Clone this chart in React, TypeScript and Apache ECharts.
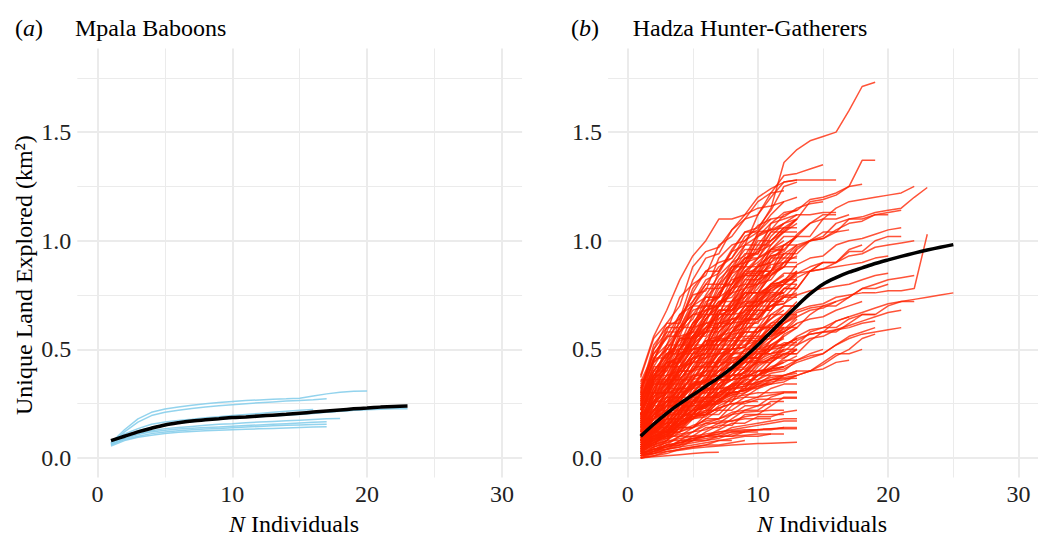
import React, { useEffect, useRef } from 'react';
import * as echarts from 'echarts';

const FONT = 'serif';
const FS = 24;

const xMajor = [0, 10, 20, 30];
const xMinor = [5, 15, 25];
const yMajor = [0, 0.5, 1, 1.5];
const yMinor = [0.25, 0.75, 1.25, 1.75];

const panelTitles = ['Mpala Baboons', 'Hadza Hunter-Gatherers'];
const panelTags = ['a', 'b'];

// Mpala baboons: one array per individual, values at N = 1, 2, 3, ...
const baboonRuns: number[][] = [
  [0.07, 0.13, 0.18, 0.21, 0.225, 0.235, 0.243, 0.25, 0.255, 0.26, 0.264, 0.267, 0.27, 0.272, 0.275, 0.285, 0.295, 0.302, 0.307, 0.308],
  [0.065, 0.12, 0.165, 0.195, 0.21, 0.22, 0.228, 0.235, 0.24, 0.245, 0.25, 0.254, 0.258, 0.262, 0.265, 0.268, 0.272],
  [0.07, 0.1, 0.12, 0.14, 0.15, 0.16, 0.168, 0.175, 0.18, 0.185, 0.19, 0.193, 0.196, 0.2, 0.204, 0.208, 0.212, 0.216, 0.22, 0.222, 0.224, 0.226, 0.227],
  [0.08, 0.11, 0.135, 0.155, 0.165, 0.172, 0.178, 0.185, 0.19, 0.195, 0.2, 0.205, 0.21, 0.215, 0.22, 0.223],
  [0.06, 0.09, 0.11, 0.125, 0.135, 0.14, 0.145, 0.15, 0.155, 0.158, 0.162, 0.165, 0.168, 0.171, 0.174, 0.177, 0.18, 0.182],
  [0.065, 0.09, 0.108, 0.12, 0.128, 0.133, 0.137, 0.14, 0.143, 0.146, 0.149, 0.152, 0.155, 0.158, 0.161, 0.164, 0.167],
  [0.06, 0.085, 0.1, 0.112, 0.12, 0.125, 0.13, 0.133, 0.136, 0.139, 0.142, 0.145, 0.148, 0.15, 0.152, 0.154, 0.155],
  [0.055, 0.08, 0.095, 0.105, 0.113, 0.118, 0.122, 0.125, 0.128, 0.13, 0.132, 0.134, 0.136, 0.138, 0.14, 0.142, 0.144],
  [0.07, 0.1, 0.125, 0.14, 0.152, 0.16, 0.167, 0.173, 0.178, 0.183, 0.187, 0.19, 0.193, 0.197, 0.2, 0.205, 0.21, 0.215, 0.22, 0.225],
];
const baboonMean = [0.08, 0.1, 0.12, 0.137, 0.152, 0.162, 0.17, 0.176, 0.181, 0.186, 0.189, 0.193, 0.197, 0.201, 0.206, 0.211, 0.216, 0.221, 0.226, 0.23, 0.234, 0.237, 0.239];

// Hadza hunter-gatherers: one array per individual, values at N = 1, 2, 3, ...
const hadzaUpper: number[][] = [
  [0.38, 0.56, 0.68, 0.82, 0.93, 1.0, 1.1, 1.1, 1.12, 1.15, 1.16, 1.18],
  [0.3, 0.5, 0.62, 0.7, 0.88, 0.95, 0.97, 1.05, 1.12, 1.2, 1.24, 1.27, 1.28],
  [0.33, 0.45, 0.58, 0.74, 0.8, 0.84, 0.98, 1.02, 1.1, 1.18, 1.22, 1.23],
  [0.27, 0.42, 0.52, 0.66, 0.72, 0.82, 0.85, 0.95, 1.04, 1.06, 1.14, 1.25, 1.27],
  [0.35, 0.48, 0.55, 0.62, 0.78, 0.86, 0.9, 0.92, 1.0, 1.04, 1.1],
  [0.25, 0.36, 0.5, 0.58, 0.64, 0.75, 0.84, 0.9, 0.93, 1.03, 1.05, 1.06],
  [0.22, 0.35, 0.4, 0.56, 0.58, 0.72, 0.74, 0.88, 0.9, 1.04, 1.05, 1.12, 1.14],
  [0.2, 0.32, 0.45, 0.5, 0.62, 0.66, 0.78, 0.8, 0.92, 0.95, 0.98],
  [0.24, 0.38, 0.46, 0.55, 0.58, 0.66, 0.74, 0.78, 0.88, 0.96, 1.0, 1.04, 1.08],
  [0.18, 0.3, 0.42, 0.48, 0.52, 0.64, 0.7, 0.8, 0.86, 0.9, 0.96, 0.98],
  [0.29, 0.4, 0.47, 0.6, 0.7, 0.74, 0.8, 0.86, 0.98, 1.02, 1.05, 1.08, 1.12],
  [0.16, 0.28, 0.38, 0.5, 0.56, 0.6, 0.7, 0.76, 0.86, 0.92, 0.95, 0.96],
];
const hadzaMid: number[][] = [
  [0.15, 0.26, 0.36, 0.45, 0.53, 0.6, 0.62, 0.72, 0.78, 0.84, 0.88],
  [0.16, 0.26, 0.3, 0.42, 0.5, 0.52, 0.64, 0.7, 0.72, 0.82, 0.86, 0.9],
  [0.14, 0.24, 0.33, 0.41, 0.44, 0.55, 0.62, 0.64, 0.74, 0.8, 0.82, 0.9, 0.93],
  [0.12, 0.22, 0.3, 0.32, 0.46, 0.54, 0.56, 0.66, 0.71, 0.72, 0.78],
  [0.14, 0.2, 0.3, 0.37, 0.4, 0.5, 0.56, 0.58, 0.68, 0.73, 0.77, 0.8],
  [0.12, 0.18, 0.28, 0.35, 0.38, 0.48, 0.54, 0.56, 0.66, 0.71, 0.73, 0.8, 0.84],
  [0.1, 0.18, 0.26, 0.28, 0.4, 0.46, 0.48, 0.58, 0.63, 0.64, 0.72, 0.75],
  [0.11, 0.18, 0.22, 0.31, 0.37, 0.4, 0.49, 0.55, 0.56, 0.65, 0.7, 0.71, 0.78],
  [0.1, 0.15, 0.24, 0.3, 0.32, 0.42, 0.48, 0.5, 0.59, 0.63, 0.66],
  [0.09, 0.16, 0.19, 0.28, 0.34, 0.36, 0.45, 0.5, 0.51, 0.6, 0.64, 0.68],
  [0.08, 0.14, 0.2, 0.22, 0.32, 0.37, 0.38, 0.47, 0.52, 0.54, 0.62, 0.66, 0.7],
  [0.09, 0.12, 0.2, 0.25, 0.26, 0.35, 0.4, 0.42, 0.5, 0.54, 0.55, 0.62, 0.65],
  [0.07, 0.12, 0.14, 0.22, 0.27, 0.28, 0.37, 0.42, 0.44, 0.5, 0.54, 0.58],
  [0.08, 0.1, 0.18, 0.23, 0.24, 0.33, 0.37, 0.38, 0.45, 0.49, 0.5, 0.57, 0.6],
  [0.06, 0.11, 0.16, 0.17, 0.26, 0.31, 0.32, 0.4, 0.44, 0.45, 0.52],
  [0.06, 0.08, 0.15, 0.19, 0.2, 0.28, 0.32, 0.33, 0.4, 0.44, 0.45, 0.52, 0.55],
  [0.05, 0.09, 0.1, 0.18, 0.22, 0.23, 0.3, 0.34, 0.35, 0.42, 0.46, 0.5],
  [0.05, 0.07, 0.13, 0.17, 0.18, 0.25, 0.29, 0.3, 0.37, 0.4, 0.41, 0.46, 0.5],
  [0.06, 0.1, 0.12, 0.18, 0.22, 0.23, 0.27, 0.29, 0.32, 0.38, 0.41, 0.44, 0.47],
  [0.2, 0.34, 0.44, 0.46, 0.54, 0.62, 0.64, 0.7, 0.78, 0.8, 0.86, 0.94],
  [0.26, 0.4, 0.48, 0.5, 0.6, 0.68, 0.7, 0.76, 0.84, 0.88, 0.9],
  [0.22, 0.3, 0.42, 0.48, 0.5, 0.58, 0.66, 0.68, 0.74, 0.82, 0.85, 0.88, 0.96],
  [0.18, 0.24, 0.36, 0.42, 0.44, 0.52, 0.6, 0.62, 0.68, 0.76, 0.79, 0.82],
  [0.13, 0.28, 0.34, 0.38, 0.48, 0.52, 0.55, 0.64, 0.66, 0.74, 0.78, 0.8, 0.86],
  [0.32, 0.44, 0.5, 0.6, 0.66, 0.68, 0.76, 0.82, 0.84, 0.92, 0.96, 1.0],
  [0.28, 0.36, 0.46, 0.54, 0.56, 0.64, 0.72, 0.74, 0.82, 0.88, 0.9, 0.98, 1.02],
  [0.17, 0.3, 0.38, 0.4, 0.52, 0.58, 0.6, 0.68, 0.72, 0.78, 0.86],
  [0.19, 0.26, 0.32, 0.42, 0.46, 0.48, 0.56, 0.6, 0.62, 0.7, 0.74, 0.76],
];
const hadzaSteps: number[][] = [
  [0.05, 0.05, 0.15, 0.15, 0.22, 0.3, 0.3, 0.38, 0.38, 0.45, 0.52, 0.52, 0.55],
  [0.1, 0.22, 0.22, 0.3, 0.42, 0.42, 0.5, 0.5, 0.62, 0.68, 0.68, 0.75, 0.75],
  [0.02, 0.12, 0.12, 0.2, 0.2, 0.28, 0.36, 0.36, 0.4, 0.48, 0.48, 0.5],
  [0.18, 0.18, 0.32, 0.4, 0.4, 0.52, 0.52, 0.6, 0.7, 0.7, 0.8, 0.85, 0.85],
  [0.08, 0.2, 0.28, 0.28, 0.35, 0.35, 0.46, 0.54, 0.54, 0.6, 0.6],
  [0.25, 0.25, 0.42, 0.42, 0.56, 0.62, 0.62, 0.72, 0.8, 0.8, 0.92, 0.92, 0.98],
  [0.12, 0.12, 0.18, 0.28, 0.28, 0.33, 0.44, 0.44, 0.5, 0.5, 0.58, 0.62],
  [0.04, 0.1, 0.1, 0.16, 0.26, 0.26, 0.3, 0.3, 0.36, 0.44, 0.44, 0.48, 0.48],
  [0.2, 0.35, 0.35, 0.48, 0.48, 0.6, 0.66, 0.66, 0.76, 0.76, 0.86, 0.92, 0.92],
  [0.06, 0.06, 0.12, 0.12, 0.2, 0.26, 0.26, 0.32, 0.32, 0.4, 0.4, 0.42],
  [0.15, 0.28, 0.36, 0.36, 0.44, 0.44, 0.55, 0.55, 0.64, 0.72, 0.72, 0.78, 0.82],
  [0.3, 0.3, 0.44, 0.55, 0.55, 0.66, 0.66, 0.78, 0.85, 0.85, 0.96, 0.96, 1.02],
  [0.09, 0.16, 0.16, 0.24, 0.24, 0.32, 0.38, 0.38, 0.46, 0.46, 0.52, 0.56],
  [0.03, 0.03, 0.08, 0.14, 0.14, 0.2, 0.2, 0.26, 0.34, 0.34, 0.38, 0.38, 0.4],
  [0.22, 0.34, 0.34, 0.46, 0.5, 0.5, 0.62, 0.62, 0.7, 0.76, 0.76],
  [0.12, 0.24, 0.24, 0.34, 0.34, 0.4, 0.48, 0.48, 0.56, 0.56, 0.66, 0.7, 0.7],
  [0.26, 0.4, 0.4, 0.52, 0.52, 0.64, 0.7, 0.7, 0.82, 0.82, 0.9, 0.94],
  [0.07, 0.14, 0.14, 0.22, 0.3, 0.3, 0.36, 0.36, 0.42, 0.5, 0.5, 0.56, 0.6],
  [0.16, 0.16, 0.26, 0.32, 0.32, 0.42, 0.42, 0.5, 0.58, 0.58, 0.66, 0.66, 0.72],
  [0.04, 0.09, 0.09, 0.14, 0.14, 0.18, 0.22, 0.22, 0.26, 0.26],
  [0.34, 0.46, 0.46, 0.6, 0.66, 0.66, 0.8, 0.8, 0.9, 1.0, 1.0, 1.06, 1.1],
  [0.11, 0.11, 0.2, 0.2, 0.3, 0.36, 0.36, 0.46, 0.46, 0.54, 0.6, 0.6],
  [0.01, 0.04, 0.04, 0.08, 0.08, 0.12, 0.15, 0.15, 0.2, 0.2, 0.24, 0.28, 0.28],
  [0.19, 0.3, 0.3, 0.38, 0.46, 0.46, 0.54, 0.54, 0.62, 0.7, 0.7, 0.74, 0.76],
  [0.14, 0.22, 0.3, 0.3, 0.38, 0.38, 0.46, 0.52, 0.52, 0.6, 0.6, 0.66],
  [0.08, 0.08, 0.14, 0.22, 0.22, 0.28, 0.28, 0.34, 0.4, 0.4, 0.46, 0.46, 0.5],
  [0.24, 0.36, 0.36, 0.5, 0.5, 0.58, 0.68, 0.68, 0.76, 0.76, 0.84, 0.88, 0.88],
  [0.05, 0.12, 0.18, 0.18, 0.24, 0.24, 0.3, 0.34, 0.34, 0.38, 0.38],
  [0.13, 0.13, 0.22, 0.22, 0.3, 0.38, 0.38, 0.44, 0.44, 0.52, 0.58, 0.58, 0.64],
  [0.28, 0.38, 0.38, 0.5, 0.58, 0.58, 0.68, 0.68, 0.76, 0.84, 0.84, 0.88],
  [0.06, 0.12, 0.12, 0.18, 0.18, 0.24, 0.32, 0.32, 0.38, 0.38, 0.44, 0.5, 0.5],
  [0.17, 0.26, 0.26, 0.36, 0.36, 0.46, 0.52, 0.52, 0.6, 0.6, 0.68, 0.74, 0.8],
  [0.02, 0.02, 0.06, 0.1, 0.1, 0.14, 0.14, 0.18, 0.22, 0.22, 0.26, 0.26],
  [0.36, 0.36, 0.52, 0.6, 0.6, 0.74, 0.74, 0.86, 0.94, 0.94, 1.04, 1.04, 1.1],
  [0.1, 0.18, 0.26, 0.26, 0.34, 0.34, 0.42, 0.48, 0.48, 0.56, 0.56, 0.62, 0.66],
  [0.21, 0.21, 0.32, 0.4, 0.4, 0.48, 0.48, 0.58, 0.64, 0.64, 0.72, 0.72],
  [0.0, 0.03, 0.06, 0.06, 0.1, 0.1, 0.13, 0.16, 0.16, 0.19, 0.19, 0.21, 0.22],
  [0.27, 0.42, 0.42, 0.55, 0.55, 0.64, 0.72, 0.72, 0.84, 0.84, 0.94, 0.98, 0.98],
  [0.15, 0.15, 0.24, 0.32, 0.32, 0.4, 0.4, 0.48, 0.54, 0.54, 0.6],
  [0.32, 0.48, 0.56, 0.56, 0.7, 0.7, 0.82, 0.88, 0.88, 0.98, 0.98, 1.05, 1.1],
];
const hadzaJumps: number[][] = [
  [0.09, 0.2, 0.26, 0.26, 0.33, 0.42, 0.42, 0.47, 0.55, 0.55, 0.6, 0.66, 0.66],
  [0.14, 0.3, 0.3, 0.4, 0.48, 0.48, 0.58, 0.64, 0.64, 0.72, 0.76, 0.76],
  [0.04, 0.14, 0.18, 0.18, 0.26, 0.32, 0.32, 0.38, 0.44, 0.44, 0.5, 0.53, 0.53],
  [0.26, 0.46, 0.52, 0.52, 0.66, 0.74, 0.74, 0.86, 0.92, 0.92, 1.0, 1.06, 1.06],
  [0.07, 0.16, 0.2, 0.2, 0.28, 0.34, 0.34, 0.4, 0.46, 0.46, 0.5],
  [0.19, 0.38, 0.44, 0.44, 0.54, 0.6, 0.6, 0.7, 0.76, 0.76, 0.84, 0.9, 0.9],
  [0.03, 0.09, 0.12, 0.12, 0.18, 0.22, 0.22, 0.28, 0.32, 0.32, 0.36, 0.38],
  [0.11, 0.24, 0.32, 0.32, 0.42, 0.5, 0.5, 0.58, 0.66, 0.66, 0.74, 0.8, 0.8],
  [0.23, 0.4, 0.48, 0.48, 0.6, 0.7, 0.7, 0.8, 0.88, 0.88, 0.98, 1.04, 1.04],
  [0.06, 0.13, 0.16, 0.16, 0.22, 0.28, 0.28, 0.33, 0.38, 0.38, 0.42, 0.44],
  [0.16, 0.32, 0.38, 0.38, 0.48, 0.54, 0.54, 0.62, 0.7, 0.7, 0.78, 0.82, 0.82],
  [0.02, 0.07, 0.1, 0.1, 0.14, 0.18, 0.18, 0.24, 0.28, 0.28, 0.32, 0.34, 0.34],
  [0.31, 0.52, 0.6, 0.6, 0.72, 0.8, 0.8, 0.9, 0.98, 0.98, 1.06],
  [0.12, 0.22, 0.28, 0.28, 0.36, 0.44, 0.44, 0.52, 0.58, 0.58, 0.64, 0.7, 0.7],
  [0.08, 0.18, 0.24, 0.24, 0.3, 0.36, 0.36, 0.42, 0.5, 0.5, 0.56, 0.58],
  [0.37, 0.55, 0.62, 0.62, 0.76, 0.86, 0.86, 0.96, 1.04, 1.04, 1.12, 1.18, 1.2],
  [0.05, 0.1, 0.13, 0.13, 0.2, 0.25, 0.25, 0.31, 0.36, 0.36, 0.41, 0.45, 0.45],
  [0.2, 0.36, 0.42, 0.42, 0.52, 0.58, 0.58, 0.66, 0.72, 0.72, 0.8, 0.84],
  [0.13, 0.26, 0.34, 0.34, 0.46, 0.54, 0.54, 0.62, 0.68, 0.68, 0.76, 0.82, 0.86],
  [0.01, 0.05, 0.08, 0.08, 0.12, 0.16, 0.16, 0.2, 0.24, 0.24, 0.28, 0.3, 0.3],
  [0.24, 0.44, 0.5, 0.5, 0.62, 0.7, 0.7, 0.78, 0.84, 0.84, 0.92, 0.96],
  [0.17, 0.3, 0.36, 0.36, 0.44, 0.52, 0.52, 0.58, 0.64, 0.64, 0.7, 0.74, 0.74],
  [0.1, 0.2, 0.24, 0.24, 0.3, 0.36, 0.36, 0.42, 0.48, 0.48, 0.54, 0.58, 0.62],
  [0.29, 0.5, 0.58, 0.58, 0.7, 0.78, 0.78, 0.88, 0.96, 0.96, 1.04, 1.08],
];
const hadzaLow: number[][] = [
  [0.0, 0.005, 0.01, 0.015, 0.02, 0.025, 0.026],
  [0.01, 0.02, 0.03, 0.035, 0.045, 0.05, 0.055, 0.06, 0.063, 0.066, 0.068, 0.07, 0.072],
  [0.02, 0.04, 0.05, 0.08, 0.09, 0.1, 0.1, 0.12, 0.125, 0.13, 0.135, 0.14, 0.14],
  [0.02, 0.04, 0.06, 0.07, 0.08, 0.08, 0.1, 0.1, 0.105, 0.11, 0.11, 0.11],
  [0.03, 0.05, 0.07, 0.09, 0.1, 0.11, 0.12, 0.125, 0.13, 0.13, 0.135, 0.135, 0.135],
  [0.03, 0.06, 0.09, 0.11, 0.12, 0.15, 0.17, 0.17, 0.19, 0.2, 0.2, 0.2],
  [0.04, 0.07, 0.1, 0.12, 0.15, 0.17, 0.18, 0.2, 0.21, 0.215, 0.22, 0.22],
  [0.05, 0.09, 0.12, 0.16, 0.19, 0.2, 0.23, 0.25, 0.25, 0.27, 0.27, 0.275, 0.275],
  [0.06, 0.1, 0.14, 0.16, 0.21, 0.24, 0.25, 0.28, 0.29, 0.3, 0.3, 0.305, 0.305],
  [0.07, 0.12, 0.16, 0.21, 0.25, 0.27, 0.3, 0.32, 0.33, 0.35, 0.36, 0.365, 0.367],
  [0.01, 0.03, 0.05, 0.06, 0.08, 0.09, 0.1, 0.1, 0.12, 0.12],
  [0.02, 0.05, 0.07, 0.1, 0.12, 0.13, 0.16, 0.17, 0.18, 0.18, 0.18],
  [0.04, 0.08, 0.11, 0.15, 0.18, 0.2, 0.23, 0.25, 0.26, 0.28, 0.29, 0.3],
  [0.05, 0.1, 0.13, 0.18, 0.22, 0.24, 0.28, 0.3, 0.31, 0.33, 0.34],
  [0.02, 0.04, 0.06, 0.07, 0.09, 0.1, 0.11, 0.12, 0.12],
  [0.03, 0.07, 0.1, 0.15, 0.19, 0.21, 0.27, 0.3, 0.31, 0.35, 0.37, 0.38, 0.39],
  [0.08, 0.13, 0.17, 0.22, 0.26, 0.28, 0.33, 0.36, 0.37, 0.4, 0.41, 0.42],
  [0.04, 0.08, 0.11, 0.16, 0.2, 0.22, 0.27, 0.3, 0.31, 0.34, 0.36, 0.37, 0.38],
  [0.01, 0.02, 0.04, 0.05, 0.06, 0.07, 0.08, 0.08],
  [0.0, 0.02, 0.04, 0.05, 0.08, 0.1, 0.11, 0.14, 0.15, 0.16, 0.17, 0.18, 0.18],
  [0.0, 0.01, 0.02, 0.04, 0.05, 0.06, 0.08, 0.09, 0.1, 0.1, 0.11],
  [0.01, 0.03, 0.04, 0.06, 0.07, 0.08, 0.09, 0.11, 0.12, 0.13, 0.13, 0.14],
  [0.03, 0.06, 0.08, 0.12, 0.14, 0.16, 0.18, 0.21, 0.22, 0.24, 0.25],
  [0.1, 0.16, 0.2, 0.25, 0.29, 0.31, 0.36, 0.4, 0.41, 0.44, 0.47, 0.48, 0.5],
  [0.12, 0.18, 0.22, 0.28, 0.33, 0.35, 0.4, 0.44, 0.45, 0.5, 0.52, 0.55],
  [0.02, 0.04, 0.05, 0.07, 0.09, 0.1, 0.12, 0.13, 0.14, 0.15, 0.16, 0.17, 0.17],
  [0.0, 0.01, 0.03, 0.04, 0.05, 0.06, 0.06, 0.07, 0.08],
  [0.15, 0.22, 0.26, 0.32, 0.36, 0.38, 0.44, 0.48, 0.49, 0.54, 0.58, 0.6],
];
const hadzaLong: number[][] = [
  [0.3, 0.45, 0.56, 0.66, 0.7, 0.8, 0.88, 0.92, 1.02, 1.05, 1.15, 1.36, 1.42, 1.46, 1.48, 1.5, 1.6, 1.71, 1.73],
  [0.25, 0.38, 0.48, 0.52, 0.62, 0.7, 0.74, 0.85, 0.92, 0.94, 1.08, 1.13, 1.14, 1.19, 1.2, 1.22, 1.25, 1.37, 1.37],
  [0.28, 0.45, 0.6, 0.64, 0.82, 0.92, 0.94, 1.05, 1.1, 1.12, 1.22, 1.3, 1.31, 1.33, 1.35],
  [0.22, 0.36, 0.42, 0.58, 0.68, 0.7, 0.86, 0.95, 0.98, 1.12, 1.2, 1.27, 1.28, 1.28, 1.28, 1.28],
  [0.18, 0.3, 0.34, 0.5, 0.6, 0.62, 0.76, 0.85, 0.88, 1.02, 1.08, 1.1, 1.12, 1.12, 1.13, 1.13],
  [0.2, 0.32, 0.42, 0.44, 0.6, 0.68, 0.7, 0.83, 0.9, 0.92, 1.02, 1.08, 1.1, 1.18, 1.19, 1.21, 1.25, 1.26],
  [0.15, 0.26, 0.3, 0.46, 0.55, 0.58, 0.7, 0.76, 0.78, 0.88, 0.93, 0.95, 1.03, 1.08, 1.1, 1.15, 1.18, 1.19, 1.2, 1.21, 1.22, 1.25],
  [0.12, 0.22, 0.26, 0.4, 0.48, 0.5, 0.62, 0.68, 0.7, 0.8, 0.86, 0.88, 0.96, 1.0, 1.02, 1.08, 1.1, 1.11, 1.13, 1.14, 1.15, 1.2, 1.245],
  [0.14, 0.25, 0.28, 0.42, 0.5, 0.52, 0.66, 0.72, 0.74, 0.84, 0.89, 0.9, 0.97, 1.0, 1.01, 1.05, 1.08, 1.09, 1.12, 1.13, 1.14],
  [0.1, 0.18, 0.22, 0.34, 0.41, 0.43, 0.55, 0.62, 0.63, 0.74, 0.8, 0.81, 0.89, 0.92, 0.93, 0.98, 1.0, 1.01, 1.03, 1.05, 1.06],
  [0.08, 0.15, 0.18, 0.3, 0.38, 0.4, 0.52, 0.58, 0.6, 0.7, 0.75, 0.76, 0.83, 0.86, 0.87, 0.9, 0.93, 0.94, 0.97, 0.98, 0.99, 1.0],
  [0.1, 0.16, 0.2, 0.28, 0.34, 0.36, 0.46, 0.5, 0.51, 0.58, 0.62, 0.63, 0.68, 0.7, 0.71, 0.74, 0.75, 0.76, 0.76, 0.77, 0.77, 0.78, 1.03],
  [0.07, 0.13, 0.16, 0.25, 0.3, 0.32, 0.4, 0.45, 0.46, 0.54, 0.58, 0.59, 0.65, 0.68, 0.69, 0.72, 0.74, 0.78, 0.8, 0.82, 0.83, 0.84],
  [0.06, 0.11, 0.14, 0.21, 0.26, 0.27, 0.34, 0.38, 0.39, 0.46, 0.5, 0.51, 0.56, 0.59, 0.6, 0.63, 0.65, 0.67, 0.69, 0.71, 0.72, 0.73, 0.74, 0.75, 0.76],
  [0.05, 0.1, 0.12, 0.2, 0.24, 0.25, 0.32, 0.36, 0.37, 0.43, 0.46, 0.47, 0.52, 0.55, 0.56, 0.59, 0.61, 0.63, 0.65, 0.67, 0.68],
  [0.04, 0.08, 0.1, 0.16, 0.2, 0.21, 0.27, 0.3, 0.31, 0.36, 0.39, 0.4, 0.45, 0.47, 0.48, 0.52, 0.55, 0.57, 0.58, 0.59, 0.6],
  [0.06, 0.12, 0.15, 0.24, 0.29, 0.3, 0.37, 0.41, 0.42, 0.48, 0.51, 0.52, 0.55, 0.57, 0.58, 0.59, 0.6, 0.62, 0.63],
  [0.03, 0.07, 0.09, 0.15, 0.19, 0.2, 0.26, 0.29, 0.3, 0.33, 0.35, 0.36, 0.38, 0.4, 0.43, 0.47, 0.5, 0.55, 0.57],
  [0.05, 0.09, 0.11, 0.19, 0.23, 0.24, 0.3, 0.33, 0.34, 0.38, 0.4, 0.41, 0.44, 0.46, 0.48, 0.52, 0.56, 0.58, 0.6],
  [0.1, 0.18, 0.22, 0.33, 0.4, 0.42, 0.52, 0.57, 0.58, 0.66, 0.7, 0.71, 0.75, 0.77, 0.78, 0.79, 0.8, 0.82, 0.84, 0.85],
  [0.12, 0.2, 0.24, 0.36, 0.44, 0.46, 0.58, 0.64, 0.65, 0.75, 0.8, 0.81, 0.85, 0.86, 0.87, 0.88, 0.89, 0.9, 0.92, 0.93],
  [0.05, 0.1, 0.12, 0.2, 0.25, 0.26, 0.34, 0.38, 0.39, 0.45, 0.48, 0.49, 0.54, 0.57, 0.58, 0.63, 0.65],
  [0.08, 0.15, 0.18, 0.27, 0.32, 0.33, 0.42, 0.46, 0.47, 0.54, 0.57, 0.58, 0.62, 0.64, 0.65, 0.68, 0.7, 0.72],
  [0.16, 0.28, 0.32, 0.47, 0.56, 0.58, 0.71, 0.78, 0.8, 0.89, 0.93, 0.94, 0.98, 1.0, 1.01, 1.04, 1.05],
  [0.22, 0.38, 0.44, 0.64, 0.75, 0.77, 0.92, 0.98, 1.0, 1.07, 1.1, 1.11, 1.15, 1.17, 1.18],
  [0.1, 0.2, 0.24, 0.38, 0.46, 0.48, 0.6, 0.66, 0.67, 0.75, 0.79, 0.8, 0.85, 0.88, 0.9],
  [0.08, 0.15, 0.18, 0.28, 0.34, 0.35, 0.45, 0.5, 0.51, 0.58, 0.61, 0.62, 0.67, 0.69, 0.7, 0.72],
  [0.04, 0.09, 0.11, 0.18, 0.22, 0.23, 0.29, 0.32, 0.33, 0.38, 0.41, 0.42, 0.45, 0.48, 0.5],
  [0.03, 0.06, 0.08, 0.14, 0.18, 0.19, 0.24, 0.27, 0.28, 0.32, 0.34, 0.35, 0.38, 0.4, 0.41, 0.44, 0.45],
  [0.18, 0.3, 0.3, 0.45, 0.52, 0.52, 0.66, 0.66, 0.78, 0.86, 0.86, 0.98, 1.02, 1.02, 1.1, 1.1, 1.12],
  [0.12, 0.2, 0.2, 0.3, 0.38, 0.38, 0.5, 0.5, 0.6, 0.68, 0.68, 0.78, 0.78, 0.86, 0.9, 0.9, 0.95, 0.95, 1.0, 1.02, 1.02],
  [0.08, 0.14, 0.14, 0.22, 0.28, 0.28, 0.36, 0.36, 0.42, 0.48, 0.48, 0.52, 0.52, 0.58, 0.6, 0.6, 0.64, 0.66, 0.66],
  [0.2, 0.34, 0.34, 0.46, 0.56, 0.56, 0.68, 0.68, 0.78, 0.86, 0.86, 0.94, 0.94, 1.0, 1.04, 1.04, 1.1, 1.1, 1.12, 1.12],
  [0.06, 0.1, 0.1, 0.16, 0.2, 0.2, 0.26, 0.26, 0.3, 0.34, 0.34, 0.38, 0.4, 0.4, 0.44, 0.48, 0.48, 0.5],
  [0.1, 0.2, 0.26, 0.26, 0.36, 0.44, 0.44, 0.54, 0.62, 0.62, 0.72, 0.78, 0.78, 0.86, 0.9, 0.9, 0.96, 0.98],
  [0.06, 0.14, 0.18, 0.18, 0.26, 0.32, 0.32, 0.4, 0.46, 0.46, 0.54, 0.6, 0.6, 0.66, 0.7, 0.7, 0.74, 0.78, 0.78, 0.8],
  [0.2, 0.36, 0.44, 0.44, 0.56, 0.66, 0.66, 0.78, 0.86, 0.86, 0.96, 1.02, 1.02, 1.08, 1.12, 1.12],
  [0.05, 0.1, 0.14, 0.14, 0.2, 0.26, 0.26, 0.32, 0.38, 0.38, 0.44, 0.48, 0.48, 0.54, 0.58, 0.58, 0.62, 0.66, 0.66, 0.7, 0.72, 0.72],
];
const hadzaMean = [0.1, 0.155, 0.205, 0.25, 0.29, 0.33, 0.37, 0.415, 0.465, 0.52, 0.58, 0.64, 0.7, 0.755, 0.8, 0.83, 0.855, 0.875, 0.895, 0.912, 0.928, 0.943, 0.957, 0.97, 0.982];

const GRID_COLOR = '#EBEBEB';
const TICK_COLOR = '#222222';

function toPoints(vals: number[]) {
  return vals.map((v, i) => [i + 1, v]);
}

function axisPair(gridIndex: number, kind: 'x' | 'y') {
  const isX = kind === 'x';
  const min = isX ? -1.5 : -0.09;
  const max = isX ? 31.5 : 1.885;
  const major = isX ? xMajor : yMajor;
  const minor = isX ? xMinor : yMinor;
  return [
    {
      type: 'value', gridIndex, min, max,
      axisLine: { show: false },
      axisTick: { show: false, customValues: major },
      axisLabel: {
        customValues: major,
        color: TICK_COLOR,
        fontFamily: FONT,
        fontSize: FS,
        margin: isX ? 4 : 6,
        formatter: (v: number) => (isX ? String(v) : v.toFixed(1)),
      },
      splitLine: { show: true, lineStyle: { color: GRID_COLOR, width: 2 } },
    },
    {
      type: 'value', gridIndex, min, max,
      axisLine: { show: false },
      axisTick: { show: false, customValues: minor },
      axisLabel: { show: false },
      splitLine: { show: true, lineStyle: { color: GRID_COLOR, width: 1 } },
    },
  ];
}

export default function App() {
  const ref = useRef<HTMLDivElement>(null);
  useEffect(() => {
    if (!ref.current) return;
    const chart = echarts.init(ref.current, undefined, { renderer: 'svg' });

    const series: any[] = [];
    baboonRuns.forEach((r) =>
      series.push({
        type: 'line', xAxisIndex: 0, yAxisIndex: 0, data: toPoints(r),
        symbol: 'none', silent: true, z: 2,
        lineStyle: { color: 'rgba(135,206,235,0.9)', width: 1.5 },
      })
    );
    series.push({
      type: 'line', xAxisIndex: 0, yAxisIndex: 0, data: toPoints(baboonMean),
      symbol: 'none', silent: true, smooth: 0.3, z: 4,
      lineStyle: { color: '#000000', width: 3.5 },
    });
    [...hadzaLow, ...hadzaMid, ...hadzaSteps, ...hadzaJumps, ...hadzaUpper, ...hadzaLong].forEach((r) =>
      series.push({
        type: 'line', xAxisIndex: 2, yAxisIndex: 2, data: toPoints(r),
        symbol: 'none', silent: true, z: 2,
        lineStyle: { color: 'rgba(255,34,0,0.78)', width: 1.5 },
      })
    );
    series.push({
      type: 'line', xAxisIndex: 2, yAxisIndex: 2, data: toPoints(hadzaMean),
      symbol: 'none', silent: true, smooth: 0.3, z: 4,
      lineStyle: { color: '#000000', width: 3.5 },
    });

    const richItalic = { i: { fontStyle: 'italic', fontFamily: FONT, fontSize: FS } };
    const tagText = (x: number, tag: string) => ({
      type: 'text', x, y: 16,
      style: { text: '(' + '{i|' + tag + '}' + ')', fontFamily: FONT, fontSize: FS, fill: '#000', rich: richItalic },
    });
    const titleText = (x: number, text: string) => ({
      type: 'text', x, y: 16,
      style: { text, fontFamily: FONT, fontSize: FS, fill: '#000' },
    });
    const xTitle = (x: number) => ({
      type: 'text', x: x - 64, y: 512,
      style: { text: '{i|N} Individuals', fontFamily: FONT, fontSize: FS, fill: '#000', rich: richItalic },
    });

    chart.setOption({
      animation: false,
      textStyle: { fontFamily: FONT },
      grid: [
        { left: 77.3, top: 48.5, width: 444.8, height: 429 },
        { left: 608.1, top: 48.5, width: 444.5, height: 429 },
      ],
      xAxis: [...axisPair(0, 'x'), ...axisPair(1, 'x')],
      yAxis: [...axisPair(0, 'y'), ...axisPair(1, 'y')],
      series,
      graphic: [
        tagText(15, panelTags[0]),
        titleText(75, panelTitles[0]),
        tagText(571, panelTags[1]),
        titleText(632.7, panelTitles[1]),
        {
          type: 'text', x: 12, y: 415, rotation: Math.PI / 2,
          style: { text: 'Unique Land Explored (km²)', fontFamily: FONT, fontSize: FS, fill: '#000' },
        },
        xTitle(293),
        xTitle(821),
      ],
    });
    return () => chart.dispose();
  }, []);
  return (
    <div
      ref={ref}
      style={{ position: 'fixed', left: 0, top: 0, width: 1038, height: 536, background: '#fff', fontFamily: 'serif' }}
    />
  );
}
